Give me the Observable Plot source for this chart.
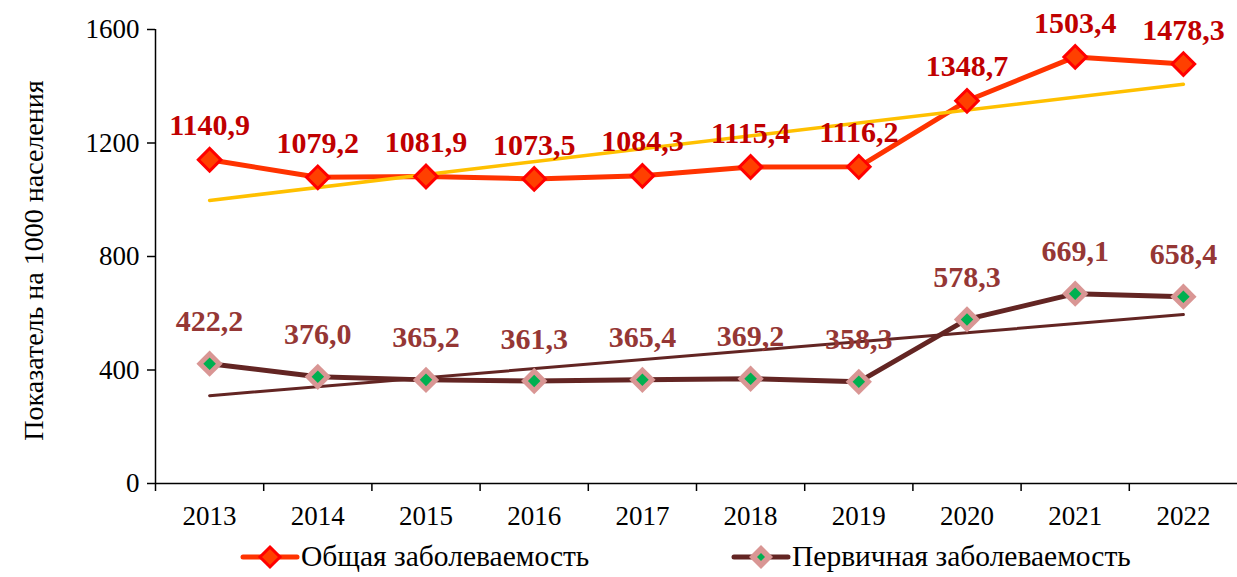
<!DOCTYPE html>
<html>
<head>
<meta charset="utf-8">
<script src="https://cdn.jsdelivr.net/npm/d3@7"></script>
<script src="https://cdn.jsdelivr.net/npm/@observablehq/plot@0.6"></script>
<style>
  body { margin: 0; background: #fff; font-family: "Liberation Serif", "Times New Roman", serif; }
  #chart { width: 1237px; }
  .legend { position: relative; height: 37px; width: 1237px; font-size: 29.5px; color: #000; }
  .legend .item { position: absolute; top: 0px; display: flex; align-items: center; }
  .legend svg { display: block; }
</style>
</head>
<body>
<div id="chart"></div>
<script>
const years = [2013, 2014, 2015, 2016, 2017, 2018, 2019, 2020, 2021, 2022];
const totalValues = [1140.9, 1079.2, 1081.9, 1073.5, 1084.3, 1115.4, 1116.2, 1348.7, 1503.4, 1478.3];
const primaryValues = [422.2, 376.0, 365.2, 361.3, 365.4, 369.2, 358.3, 578.3, 669.1, 658.4];
const yTicks = [0, 400, 800, 1200, 1600];
const seriesNames = ["Общая заболеваемость", "Первичная заболеваемость"];
const yLabel = "Показатель на 1000 населения";

const total = years.map((year, i) => ({year, value: totalValues[i]}));
const primary = years.map((year, i) => ({year, value: primaryValues[i]}));
const fmt = v => d3.format(".1f")(v).replace(".", ",");
const boundaries = years.map(y => y - 0.5);

const serif = "Liberation Serif, Times New Roman, serif";

const plot = Plot.plot({
  width: 1237,
  height: 540,
  marginTop: 29,
  marginBottom: 57,
  marginLeft: 155,
  marginRight: 0,
  style: {fontFamily: serif, background: "#fff", color: "#000"},
  x: {type: "linear", domain: [years[0] - 0.5, years[years.length - 1] + 0.5]},
  y: {domain: [0, 1600]},
  marks: [
    Plot.axisY(yTicks, {tickSize: 8, tickPadding: 8, fontSize: 27, tickFormat: d => String(d), label: null, stroke: "#000", strokeWidth: 1.5}),
    Plot.axisX(boundaries, {tickSize: 8, tickFormat: () => "", label: null, stroke: "#000", strokeWidth: 1.5}),
    Plot.axisX(years, {tickSize: 0, tickPadding: 22, fontSize: 27, tickFormat: d => String(d), label: null}),
    Plot.ruleY([0], {stroke: "#000", strokeWidth: 1.5}),
    Plot.ruleX([years[0] - 0.5], {stroke: "#000", strokeWidth: 1.5}),
    Plot.text([yLabel], {frameAnchor: "left", textAnchor: "middle", rotate: -90, dx: -121, dy: 4, fontSize: 28, fill: "#000"}),
    // primary series
    Plot.line(primary, {x: "year", y: "value", stroke: "#632523", strokeWidth: 5}),
    Plot.linearRegressionY(primary, {x: "year", y: "value", stroke: "#632523", strokeWidth: 3, ci: 0}),
    Plot.dot(primary, {x: "year", y: "value", symbol: "square", rotate: 45, r: 10.5, fill: "#D99694"}),
    Plot.dot(primary, {x: "year", y: "value", symbol: "square", rotate: 45, r: 5, fill: "#00B050"}),
    Plot.text(primary, {x: "year", y: "value", text: d => fmt(d.value), dy: -42, fontSize: 30, fontWeight: "bold", fill: "#953735"}),
    // total series
    Plot.line(total, {x: "year", y: "value", stroke: "#FF3300", strokeWidth: 5}),
    Plot.linearRegressionY(total, {x: "year", y: "value", stroke: "#FFC000", strokeWidth: 3.5, ci: 0}),
    Plot.dot(total, {x: "year", y: "value", symbol: "square", rotate: 45, r: 9, fill: "#FF4000", stroke: "#FF0000", strokeWidth: 3}),
    Plot.text(total, {x: "year", y: "value", text: d => fmt(d.value), dy: -34, fontSize: 30, fontWeight: "bold", fill: "#C00000"})
  ]
});
document.getElementById("chart").appendChild(plot);

// legend
const legend = document.createElement("div");
legend.className = "legend";
const swatches = [
  {name: seriesNames[0], left: 240, line: "#FF3300", outer: "#FF4000", outerStroke: "#FF0000", inner: null},
  {name: seriesNames[1], left: 731, line: "#632523", outer: "#D99694", outerStroke: null, inner: "#00B050"}
];
for (const s of swatches) {
  const item = document.createElement("div");
  item.className = "item";
  item.style.left = s.left + "px";
  const ns = "http://www.w3.org/2000/svg";
  const svg = document.createElementNS(ns, "svg");
  svg.setAttribute("width", 60);
  svg.setAttribute("height", 32);
  const ln = document.createElementNS(ns, "line");
  ln.setAttribute("x1", 3); ln.setAttribute("x2", 57); ln.setAttribute("y1", 16); ln.setAttribute("y2", 16);
  ln.setAttribute("stroke", s.line); ln.setAttribute("stroke-width", 5); ln.setAttribute("stroke-linecap", "round");
  svg.appendChild(ln);
  const d1 = document.createElementNS(ns, "path");
  d1.setAttribute("d", "M30,4 L42,16 L30,28 L18,16 Z");
  d1.setAttribute("fill", s.outer);
  if (s.outerStroke) { d1.setAttribute("stroke", s.outerStroke); d1.setAttribute("stroke-width", 3); d1.setAttribute("d", "M30,6 L40,16 L30,26 L20,16 Z"); }
  svg.appendChild(d1);
  if (s.inner) {
    const d2 = document.createElementNS(ns, "path");
    d2.setAttribute("d", "M30,12 L34,16 L30,20 L26,16 Z");
    d2.setAttribute("fill", s.inner);
    svg.appendChild(d2);
  }
  item.appendChild(svg);
  const t = document.createElement("span");
  t.textContent = s.name;
  t.style.marginLeft = "1px";
  item.appendChild(t);
  legend.appendChild(item);
}
document.body.appendChild(legend);
</script>
</body>
</html>
